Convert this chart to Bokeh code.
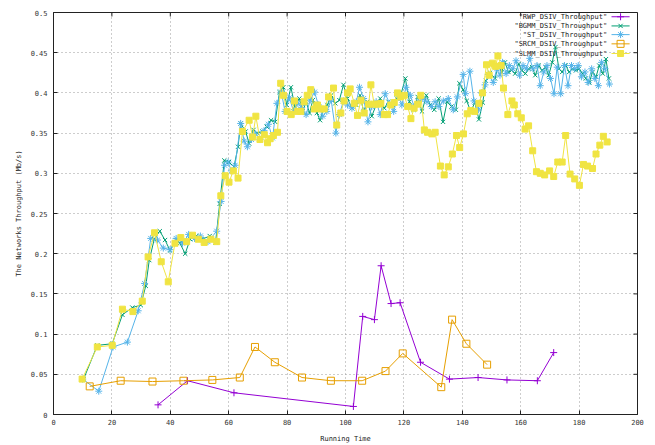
from bokeh.plotting import figure
from bokeh.models import Range1d, FixedTicker, CustomJSTickFormatter, ColumnDataSource
from bokeh.core.properties import value
from bokeh.embed import file_html
from bokeh.resources import INLINE

# ---------------- data ----------------
x_ticks = [0, 20, 40, 60, 80, 100, 120, 140, 160, 180, 200]
y_ticks = [0, 0.05, 0.1, 0.15, 0.2, 0.25, 0.3, 0.35, 0.4, 0.45, 0.5]

series_names = ['"RWP_DSIV_Throughput"', '"BGMM_DSIV_Throughput"', '"ST_DSIV_Throughput"',
                '"SRCM_DSIV_Throughput"', '"SLMM_DSIV_Throughput"']

rwp_x = [35.8, 45.9, 61.8, 102.7, 105.9, 109.9, 112.2, 115.6, 118.7, 125.7, 135.6, 145.4, 155.3, 165.7, 171.3]
rwp_y = [0.012, 0.042, 0.027, 0.010, 0.122, 0.118, 0.185, 0.138, 0.139, 0.065, 0.044, 0.046, 0.043, 0.042, 0.077]

bgmm_x = [10.3, 15.0, 20.1, 23.6, 27.0, 29.9, 31.6, 32.8, 34.5, 36.4, 38.2, 39.9, 42.0, 43.3, 45.1, 46.8, 48.9,
          50.9, 53.5, 55.5, 56.9, 58.5, 60.1, 61.8, 63.2, 64.1, 65.8, 67.0, 68.5, 69.8, 71.6, 73.0, 74.5, 75.9,
          77.4, 78.7, 79.9, 81.3, 82.7, 84.2, 85.4, 86.5, 87.7, 88.8, 90.2, 91.3, 92.5, 93.8, 95.1, 96.5, 97.9,
          99.3, 100.7, 102.2, 103.7, 105.0, 106.2, 107.5, 109.0, 110.5, 111.9, 113.3, 114.7, 116.2, 117.6, 118.9,
          120.5, 121.9, 123.3, 124.7, 126.2, 127.7, 129.0, 130.4, 131.9, 133.4, 134.8, 136.3, 137.8, 139.0, 140.3,
          141.5, 142.9, 144.3, 145.7, 147.0, 148.1, 149.5, 151.2, 152.3, 153.5, 154.6, 155.8, 156.9, 158.1, 159.3,
          160.4, 161.6, 162.7, 163.9, 165.0, 166.2, 167.3, 168.5, 169.6, 170.8, 171.9, 173.1, 174.2, 175.4, 176.6,
          177.7, 178.9, 180.0, 181.2, 182.3, 183.5, 184.6, 185.8, 186.9, 188.1, 189.2, 190.2]
bgmm_y = [0.044, 0.086, 0.088, 0.124, 0.133, 0.136, 0.160, 0.192, 0.218, 0.228, 0.217, 0.204, 0.217, 0.213, 0.200, 0.218, 0.222,
          0.218, 0.222, 0.214, 0.262, 0.316, 0.314, 0.308, 0.333, 0.362, 0.352, 0.337, 0.354, 0.350, 0.352, 0.358, 0.366, 0.364,
          0.401, 0.407, 0.385, 0.407, 0.383, 0.393, 0.377, 0.389, 0.375, 0.391, 0.375, 0.366, 0.381, 0.385, 0.397, 0.387, 0.391,
          0.410, 0.393, 0.381, 0.385, 0.397, 0.377, 0.389, 0.371, 0.385, 0.393, 0.381, 0.389, 0.385, 0.393, 0.397,
          0.418, 0.389, 0.379, 0.395, 0.377, 0.397, 0.385, 0.379, 0.393, 0.364, 0.389, 0.383, 0.379, 0.412, 0.404,
          0.390, 0.377, 0.388, 0.367, 0.388, 0.415, 0.425, 0.418, 0.434, 0.426, 0.438, 0.426, 0.428, 0.424, 0.436,
          0.428, 0.424, 0.430, 0.432, 0.422, 0.434, 0.428, 0.432, 0.422, 0.438, 0.457, 0.430, 0.426, 0.434, 0.426,
          0.430, 0.428, 0.430, 0.424, 0.418, 0.413, 0.426, 0.420, 0.434, 0.424, 0.442, 0.418]

st_x = [10.0, 15.5, 20.4, 25.3, 29.0, 31.2, 33.3, 35.6, 37.6, 39.9, 42.0, 44.2, 46.3, 48.3, 50.3, 52.9, 55.9, 57.4,
        58.6, 59.8, 60.9, 62.2, 64.1, 65.3, 66.4, 67.8, 69.2, 70.7, 72.1, 73.6, 75.0, 76.5, 78.0, 79.3, 80.8, 82.2,
        83.7, 85.0, 86.5, 87.9, 89.4, 90.7, 92.2, 93.6, 95.1, 96.7, 97.9, 99.3, 100.7, 102.2, 103.7, 104.8, 106.2,
        107.7, 109.0, 110.5, 111.9, 113.6, 115.1, 116.5, 118.0, 119.3, 120.7, 122.2, 123.5, 125.0, 126.5, 127.9,
        129.4, 130.7, 132.0, 133.5, 135.2, 136.9, 138.3, 140.3, 141.1, 142.6, 144.0, 145.5, 146.6, 147.8, 148.9,
        150.6, 151.8, 152.9, 153.8, 155.0, 156.1, 157.3, 158.4, 159.6, 160.8, 161.9, 163.1, 164.2, 165.6, 166.7,
        167.9, 169.0, 170.2, 171.4, 172.5, 173.7, 175.0, 176.2, 177.4, 178.5, 179.7, 180.8, 182.0, 183.1, 184.3,
        185.4, 186.6, 187.7, 188.9, 190.4]
st_y = [0.044, 0.029, 0.084, 0.090, 0.129, 0.163, 0.219, 0.217, 0.207, 0.205, 0.219, 0.213, 0.224, 0.219, 0.222, 0.215, 0.228, 0.265,
        0.310, 0.314, 0.303, 0.310, 0.362, 0.340, 0.333, 0.342, 0.349, 0.342, 0.353, 0.361, 0.344, 0.387, 0.401, 0.377, 0.394, 0.377,
        0.387, 0.382, 0.373, 0.391, 0.401, 0.385, 0.371, 0.377, 0.391, 0.350, 0.373, 0.390, 0.385, 0.381, 0.389, 0.407, 0.393,
        0.364, 0.383, 0.389, 0.373, 0.399, 0.387, 0.377, 0.397, 0.385, 0.407, 0.397, 0.383, 0.389, 0.393, 0.389,
        0.383, 0.389, 0.383, 0.390, 0.393, 0.379, 0.395, 0.423, 0.399, 0.427, 0.390, 0.379, 0.400, 0.410, 0.423,
        0.413, 0.430, 0.422, 0.438, 0.424, 0.434, 0.430, 0.440, 0.422, 0.434, 0.430, 0.443, 0.430, 0.434, 0.409,
        0.426, 0.434, 0.418, 0.399, 0.432, 0.399, 0.434, 0.409, 0.434, 0.430, 0.434, 0.420, 0.426, 0.413, 0.430,
        0.418, 0.409, 0.438, 0.430, 0.411]

srcm_x = [12.4, 23.0, 33.9, 44.5, 54.4, 63.8, 69.0, 75.8, 85.1, 95.0, 105.7, 113.7, 119.6, 132.8, 136.5, 141.4, 148.5]
srcm_y = [0.035, 0.042, 0.041, 0.042, 0.043, 0.046, 0.084, 0.065, 0.046, 0.042, 0.042, 0.054, 0.076, 0.034, 0.118, 0.088, 0.062]

slmm_x = [9.8, 15.0, 20.1, 23.6, 27.2, 30.4, 32.4, 34.6, 36.9, 39.3, 41.6, 43.6, 45.6, 47.6, 49.6, 51.6, 53.9, 55.9,
          57.3, 58.8, 60.1, 61.6, 63.2, 64.7, 67.0, 68.2, 69.3, 70.7, 72.2, 73.3, 74.2, 75.3, 76.7, 77.8, 78.8, 80.0,
          81.4, 82.5, 83.5, 84.7, 85.8, 86.9, 88.1, 89.3, 90.4, 91.5, 92.7, 94.2, 95.9, 97.0, 98.4, 99.5, 100.7, 101.6,
          103.0, 104.1, 105.3, 106.4, 107.9, 108.7, 109.8, 111.0, 112.1, 113.3, 114.4, 115.5, 116.7, 117.8, 118.9,
          120.1, 121.3, 122.4, 123.5, 124.7, 125.8, 127.0, 128.1, 129.6, 130.7, 132.5, 133.8, 135.2, 136.6, 138.0,
          139.1, 140.4, 141.7, 142.9, 144.2, 145.7, 146.9, 148.3, 149.2, 150.3, 151.4, 152.2, 153.3, 154.1, 155.6,
          157.0, 157.8, 159.0, 160.2, 161.5, 162.7, 164.1, 165.4, 166.7, 168.2, 169.9, 171.3, 172.7, 174.2, 175.4,
          176.9, 178.5, 180.1, 181.5, 182.9, 184.6, 185.8, 187.1, 188.3, 189.6]
slmm_y = [0.044, 0.084, 0.086, 0.131, 0.128, 0.141, 0.196, 0.226, 0.190, 0.165, 0.213, 0.220, 0.215, 0.223, 0.218, 0.214, 0.218, 0.215,
          0.272, 0.297, 0.289, 0.303, 0.294, 0.352, 0.366, 0.345, 0.371, 0.342, 0.348, 0.338, 0.343, 0.347, 0.351, 0.412, 0.397, 0.377,
          0.373, 0.390, 0.377, 0.377, 0.389, 0.397, 0.404, 0.380, 0.385, 0.380, 0.380, 0.395, 0.406, 0.360, 0.375, 0.390, 0.400, 0.405,
          0.387, 0.372, 0.391, 0.375, 0.386, 0.410, 0.386, 0.386, 0.387, 0.373, 0.373, 0.385, 0.388, 0.400, 0.395,
          0.397, 0.383, 0.368, 0.381, 0.386, 0.397, 0.354, 0.351, 0.349, 0.351, 0.309, 0.298, 0.308, 0.324, 0.347,
          0.332, 0.349, 0.374, 0.378, 0.377, 0.387, 0.400, 0.435, 0.422, 0.437, 0.433, 0.446, 0.434, 0.406, 0.373,
          0.390, 0.385, 0.374, 0.369, 0.355, 0.359, 0.328, 0.302, 0.300, 0.298, 0.303, 0.296, 0.314, 0.314, 0.347,
          0.299, 0.293, 0.285, 0.311, 0.309, 0.306, 0.324, 0.335, 0.346, 0.339]

# ---------------- style ----------------
FONT = "DejaVu Sans Mono"
FS = "7px"
INK = "#222222"
colors = ["#9400d3", "#009e73", "#56b4e9", "#e69f00", "#f0e442"]
markers = ["cross", "x", "asterisk", "square", "square"]
fills = [None, None, None, None, "#f0e442"]
sizes = [7, 6, 7, 7, 6]

X0, X1, Y0, Y1 = 0, 200, 0, 0.5
p = figure(width=655, height=445, x_range=Range1d(X0, X1), y_range=Range1d(Y0, Y1),
           output_backend="svg", toolbar_location=None,
           min_border_left=53, min_border_right=18, min_border_top=12, min_border_bottom=31)
p.background_fill_color = "white"
p.border_fill_color = "white"
p.outline_line_color = INK
p.outline_line_width = 1

p.xaxis.ticker = FixedTicker(ticks=x_ticks)
p.yaxis.ticker = FixedTicker(ticks=y_ticks)
p.yaxis.formatter = CustomJSTickFormatter(code="return tick.toFixed(2).replace(/0+$/, '').replace(/\\.$/, '');")
for ax in (p.xaxis[0], p.yaxis[0]):
    ax.major_tick_in = 4
    ax.major_tick_out = 0
    ax.minor_tick_line_color = None
    ax.axis_line_color = INK
    ax.major_tick_line_color = INK
    ax.major_label_text_font = FONT
    ax.major_label_text_font_size = FS
    ax.major_label_text_color = "#333333"
    ax.axis_label_text_font = FONT
    ax.axis_label_text_font_size = FS
    ax.axis_label_text_font_style = "normal"
    ax.axis_label_text_color = INK
p.xaxis.axis_label = "Running Time"
p.yaxis.axis_label = "The Networks Throughput (Mb/s)"
p.xaxis.major_label_standoff = 4
p.xaxis.axis_label_standoff = 7
p.yaxis.major_label_standoff = 6
p.yaxis.axis_label_standoff = 5

# mirrored inward ticks on top and right (gnuplot style)
tick_dx = 4 * (X1 - X0) / 584.0
tick_dy = 4 * (Y1 - Y0) / 402.0
p.segment(x0=x_ticks, y0=[Y1] * len(x_ticks), x1=x_ticks, y1=[Y1 - tick_dy] * len(x_ticks),
          line_color=INK, line_width=1)
p.segment(x0=[X1] * len(y_ticks), y0=y_ticks, x1=[X1 - tick_dx] * len(y_ticks), y1=y_ticks,
          line_color=INK, line_width=1)

p.xgrid.ticker = FixedTicker(ticks=x_ticks[1:-1])
p.ygrid.ticker = FixedTicker(ticks=y_ticks[1:-1])
for g in (p.xgrid[0], p.ygrid[0]):
    g.grid_line_color = "#9a9a9a"
    g.grid_line_dash = "1 3"
    g.grid_line_width = 1

xs = [rwp_x, bgmm_x, st_x, srcm_x, slmm_x]
ys = [rwp_y, bgmm_y, st_y, srcm_y, slmm_y]
for i in range(5):
    src = ColumnDataSource(dict(x=xs[i], y=ys[i]))
    p.line("x", "y", source=src, line_color=colors[i], line_width=1)
    p.scatter("x", "y", source=src, marker=markers[i], size=sizes[i], line_color=colors[i],
              fill_color=fills[i], line_width=1)

# ---------------- legend (gnuplot style: text right-justified, sample to its right) ----------------
leg_text_x = 189.6
leg_x0, leg_x1 = 191.1, 197.3
leg_ys = [0.4947, 0.4833, 0.4725, 0.461, 0.449]
p.text(x=[leg_text_x] * 5, y=leg_ys, text=series_names, text_align="right", text_baseline="middle",
       text_font=value(FONT), text_font_size=value(FS), text_color=INK)
for i in range(5):
    p.segment(x0=[leg_x0], y0=[leg_ys[i]], x1=[leg_x1], y1=[leg_ys[i]], line_color=colors[i], line_width=1)
    p.scatter(x=[(leg_x0 + leg_x1) / 2], y=[leg_ys[i]], marker=markers[i], size=sizes[i],
              line_color=colors[i], fill_color=fills[i], line_width=1)

open("out.html", "w").write(file_html(p, INLINE))
